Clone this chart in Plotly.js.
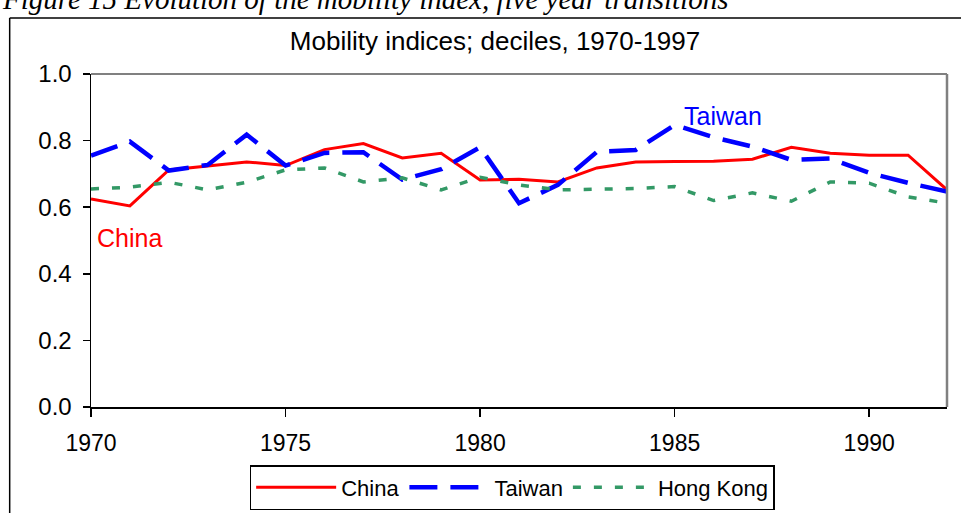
<!DOCTYPE html>
<html>
<head>
<meta charset="utf-8">
<script src="https://cdn.plot.ly/plotly-3.0.1.min.js"></script>
<style>html,body{margin:0;padding:0;background:#fff;}#chart{width:961px;height:513px;}</style>
</head>
<body>
<div id="chart"></div>
<script>
const years = [1970,1971,1972,1973,1974,1975,1976,1977,1978,1979,1980,1981,1982,1983,1984,1985,1986,1987,1988,1989,1990,1991,1992];
const china = [0.625,0.604,0.712,0.724,0.736,0.725,0.773,0.791,0.748,0.762,0.682,0.684,0.676,0.718,0.736,0.737,0.738,0.744,0.78,0.762,0.756,0.756,0.652];
const taiwan = [0.755,0.797,0.71,0.727,0.818,0.725,0.763,0.765,0.683,0.714,0.78,0.612,0.667,0.766,0.772,0.847,0.81,0.782,0.742,0.746,0.703,0.673,0.647];
const hongkong = [0.655,0.66,0.675,0.652,0.675,0.712,0.718,0.676,0.688,0.652,0.69,0.667,0.652,0.655,0.656,0.662,0.62,0.643,0.618,0.676,0.672,0.631,0.612];
const xTicks = [1970,1975,1980,1985,1990];
const yTicks = [0,0.2,0.4,0.6,0.8,1.0];

const traces = [
  {x: years, y: china, name: 'China', mode: 'lines', line: {color: '#FF0000', width: 3}},
  {x: years, y: taiwan, name: 'Taiwan', mode: 'lines', line: {color: '#0000FF', width: 4.5, dash: '28px,13px'}},
  {x: years, y: hongkong, name: 'Hong Kong', mode: 'lines', line: {color: '#339966', width: 3.5, dash: '8px,13px'}}
];

const font = {family: 'Liberation Sans, Arial, sans-serif', color: '#000'};

const layout = {
  width: 961, height: 513,
  margin: {l: 91, r: 14, t: 74, b: 106},
  paper_bgcolor: '#fff', plot_bgcolor: '#fff',
  font: Object.assign({size: 20}, font),
  showlegend: true,
  title: {text: 'Mobility indices; deciles, 1970-1997', font: Object.assign({size: 26}, font),
          x: 0.472, xanchor: 'center', xref: 'paper', y: 0.92, yanchor: 'middle', yref: 'container'},
  xaxis: {range: [1970, 1992], tickvals: xTicks, ticks: 'outside', ticklen: 8, tickwidth: 1.5, tickcolor: '#000',
          showline: true, linecolor: '#000', linewidth: 1.5, showgrid: false, zeroline: false, ticklabelstandoff: 7,
          tickfont: Object.assign({size: 23}, font), fixedrange: true, automargin: false},
  yaxis: {range: [0, 1], tickvals: yTicks, tickformat: '.1f', ticks: 'outside', ticklen: 7, tickwidth: 1.5, tickcolor: '#000',
          showline: true, linecolor: '#000', linewidth: 1.5, showgrid: false, zeroline: false, ticklabelstandoff: 6,
          tickfont: Object.assign({size: 24}, font), fixedrange: true, automargin: false},
  legend: {orientation: 'h', x: 0.492, xanchor: 'center', y: 1 - 510/513, yanchor: 'bottom', yref: 'container',
           bordercolor: '#000', borderwidth: 1.5, bgcolor: '#fff', itemwidth: 80,
           font: Object.assign({size: 22}, font), traceorder: 'normal', itemclick: false},
  annotations: [
    {x: 1970.1, y: 0.507, xref: 'x', yref: 'y', text: 'China', showarrow: false, xanchor: 'left', yanchor: 'middle',
     font: Object.assign({}, font, {size: 25, color: '#FF0000'})},
    {x: 1985.2, y: 0.873, xref: 'x', yref: 'y', text: 'Taiwan', showarrow: false, xanchor: 'left', yanchor: 'middle',
     font: Object.assign({}, font, {size: 25, color: '#0000FF'})},
    {x: -0.106, y: 1.225, xref: 'paper', yref: 'paper', text: '<i>Figure 15 Evolution of the mobility index, five year transitions</i>',
     showarrow: false, xanchor: 'left', yanchor: 'middle', font: {family: 'Liberation Serif, Times New Roman, serif', size: 29, color: '#000'}}
  ],
  shapes: [
    {type: 'line', xref: 'paper', yref: 'paper', x0: -0.095, x1: -0.095, y0: -0.4, y1: 1.168, line: {color: '#000', width: 1.5}},
    {type: 'line', xref: 'paper', yref: 'paper', x0: -0.095, x1: 1.05, y0: 1.168, y1: 1.168, line: {color: '#000', width: 1.5}},
    {type: 'line', xref: 'paper', yref: 'paper', x0: 0, x1: 1, y0: 1, y1: 1, line: {color: '#808080', width: 2}},
    {type: 'line', xref: 'paper', yref: 'paper', x0: 1, x1: 1, y0: 0, y1: 1, line: {color: '#808080', width: 2.5}}
  ]
};

Plotly.newPlot('chart', traces, layout, {displayModeBar: false, staticPlot: true});
</script>
</body>
</html>
